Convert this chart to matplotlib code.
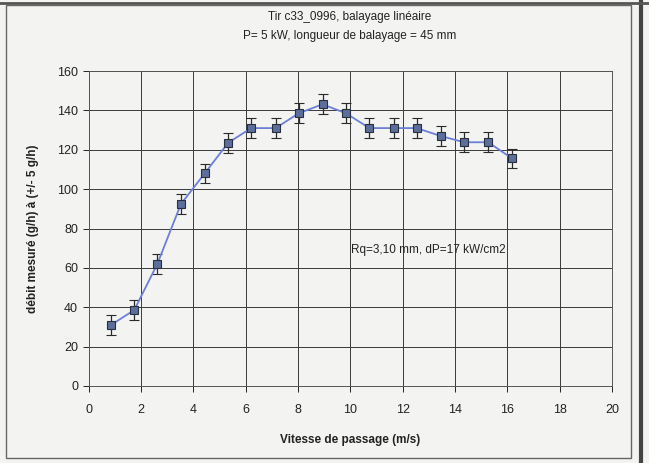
import matplotlib
matplotlib.use("Agg")
import matplotlib.pyplot as plt
from matplotlib.patches import Rectangle
from matplotlib.lines import Line2D

plt.rcParams['font.family'] = ['Liberation Sans', 'DejaVu Sans']

vitesse = [0.86, 1.75, 2.63, 3.53, 4.44, 5.34, 6.22, 7.15, 8.03, 8.94,
           9.84, 10.73, 11.67, 12.54, 13.45, 14.35, 15.27, 16.18]
debit = [31, 38.6, 62, 92.4, 108, 123.6, 131, 131, 138.5, 143.1,
         138.5, 131, 131, 131, 127, 123.8, 123.8, 115.6]
erreur = [5] * len(debit)
x_ticks = list(range(0, 21, 2))
y_ticks = list(range(0, 161, 20))

bg = '#f3f3f1'
fig = plt.figure(figsize=(6.49, 4.63), dpi=100, facecolor=bg)
ax = fig.add_axes([88.5/649, 1-386/463, (612-88.5)/649, (386-71)/463])
ax.set_facecolor(bg)

ax.errorbar(vitesse, debit, yerr=erreur, color='#6b7fd8', lw=1.3,
            marker='s', ms=5.5, mfc='#5b6f9a', mec='#2a2f3f', mew=0.8,
            ecolor='#2a2a2a', elinewidth=0.9, capsize=3.5, capthick=0.9, zorder=3)

ax.set_xlim(0, 20)
ax.set_ylim(0, 160)
ax.set_xticks(x_ticks)
ax.set_yticks(y_ticks)
ax.grid(True, color='#3a3a3a', lw=0.7)
ax.set_axisbelow(True)
for s in ax.spines.values():
    s.set_color('#555555')
    s.set_linewidth(0.7)
ax.tick_params(labelsize=9, colors='#222222', length=4, width=0.7, direction='out')
ax.tick_params(axis='x', pad=9)

ax.set_xlabel('Vitesse de passage (m/s)', fontsize=8.5, fontweight='bold', color='#222222', labelpad=13)
ax.set_ylabel('débit mesuré (g/h) à (+/- 5 g/h)', fontsize=8.5, fontweight='bold', color='#222222', labelpad=13)

fig.text(350/649, 1-17/463, 'Tir c33_0996, balayage linéaire', ha='center', va='center', fontsize=8.5, color='#222222')
fig.text(350/649, 1-36/463, 'P= 5 kW, longueur de balayage = 45 mm', ha='center', va='center', fontsize=8.5, color='#222222')

ax.text(13.0, 69, 'Rq=3,10 mm, dP=17 kW/cm2', ha='center', va='center', fontsize=8.5, color='#222222')

# outer frame
fig.patches.append(Rectangle((6/649, 5/463), (631-6)/649, (458-5)/463, transform=fig.transFigure,
                             fill=False, ec='#666666', lw=1.0))
fig.lines.append(Line2D([641/649, 641/649], [0, 1], transform=fig.transFigure, color='#444444', lw=3))
fig.lines.append(Line2D([0, 1], [1-3/463, 1-3/463], transform=fig.transFigure, color='#555555', lw=2))

fig.savefig('out.png', dpi=100, facecolor=bg)
